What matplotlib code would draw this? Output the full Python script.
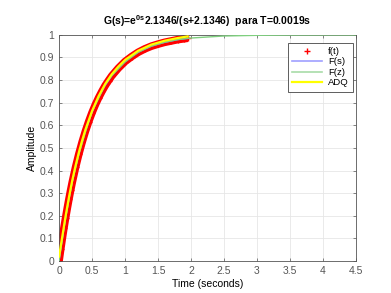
import matplotlib
matplotlib.use("Agg")
import matplotlib.pyplot as plt
from matplotlib.lines import Line2D

plt.rcParams['font.family'] = ['Liberation Sans', 'DejaVu Sans']
plt.rcParams['mathtext.fontset'] = 'custom'
plt.rcParams['mathtext.rm'] = 'Liberation Sans'
plt.rcParams['mathtext.bf'] = 'Liberation Sans:bold'

# Data
t_f = [0, 0.025, 0.05, 0.075, 0.1, 0.125, 0.15, 0.175, 0.2, 0.25, 0.3, 0.35, 0.4, 0.45, 0.5,
       0.55, 0.6, 0.65, 0.7, 0.75, 0.8, 0.9, 1.0, 1.1, 1.2, 1.3, 1.4, 1.5, 1.6, 1.7, 1.8,
       1.9, 1.95]
y_f = [0, 0.052, 0.101, 0.148, 0.192, 0.234, 0.274, 0.312, 0.348, 0.414, 0.473, 0.526, 0.574,
       0.617, 0.656, 0.691, 0.722, 0.750, 0.776, 0.798, 0.819, 0.853, 0.882, 0.904, 0.923,
       0.938, 0.950, 0.959, 0.967, 0.973, 0.979, 0.983, 0.985]
t_z = [0, 0.1, 0.2, 0.3, 0.4, 0.5, 0.6, 0.7, 0.8, 0.9, 1.0, 1.2, 1.4, 1.6, 1.8, 2.0,
       2.5, 3.0, 3.5, 4.0, 4.5]
y_z = [0, 0.19, 0.35, 0.47, 0.57, 0.66, 0.72, 0.78, 0.82, 0.85, 0.88, 0.923, 0.950, 0.967,
       0.979, 0.986, 0.995, 0.998, 0.9995, 1.0, 1.0]
t_adq = [0, 0.025, 0.05, 0.1, 0.15, 0.2, 0.25, 0.3, 0.35, 0.4, 0.5, 0.6, 0.7, 0.8, 0.9, 1.0,
         1.2, 1.4, 1.6, 1.8, 1.95]
y_adq = [0.02, 0.065, 0.11, 0.20, 0.282, 0.356, 0.421, 0.480, 0.533, 0.581, 0.663, 0.729,
         0.783, 0.826, 0.860, 0.889, 0.930, 0.957, 0.974, 0.986, 0.993]
x_ticks = [0, 0.5, 1, 1.5, 2, 2.5, 3, 3.5, 4, 4.5]
y_ticks = [0, 0.1, 0.2, 0.3, 0.4, 0.5, 0.6, 0.7, 0.8, 0.9, 1]

fig = plt.figure(figsize=(3.91, 2.93), dpi=100)
ax = fig.add_axes([0.151, 0.109, 0.759, 0.772])

red = '#ff0000'
ax.plot(t_f, y_f, color=red, lw=5.5, solid_capstyle='butt', solid_joinstyle='round', zorder=2)
ax.plot(t_f, y_f, '+', color=red, ms=4, zorder=2)
ax.plot(t_f, y_f, color='#7b7bff', lw=1, zorder=3)
ax.plot(t_z, y_z, color='#7fcf7f', lw=1, zorder=3)
ax.plot(t_adq, y_adq, color='#ffff00', lw=1.6, zorder=4)

ax.set_xlim(0, 4.5)
ax.set_ylim(0, 1)
ax.set_xticks(x_ticks)
ax.set_xticklabels([f'{v:g}' for v in x_ticks])
ax.set_yticks(y_ticks)
ax.set_yticklabels([f'{v:g}' for v in y_ticks])
ax.grid(True, color='#e6e6e6', lw=0.6)
ax.set_axisbelow(True)
ax.tick_params(direction='in', length=2.5, width=0.5, colors='#555555', labelsize=7.5,
               top=True, right=True, labeltop=False, labelright=False)
for s in ax.spines.values():
    s.set_color('#555555')
    s.set_linewidth(0.6)

ax.set_xlabel('Time (seconds)', fontsize=7.5, labelpad=2)
ax.set_ylabel('Amplitude', fontsize=7.5, labelpad=2)
ax.set_title(r'G(s)=e$^{\mathbf{0s}}$2.1346/(s+2.1346)  para T=0.0019s',
             fontsize=7.5, fontweight='bold', pad=7)

handles = [Line2D([], [], color=red, marker='+', ls='none', ms=5),
           Line2D([], [], color='#9f9fff', lw=1.2),
           Line2D([], [], color='#a8dca8', lw=1.2),
           Line2D([], [], color='#ffff00', lw=1.6)]
leg = ax.legend(handles, ['f(t)', 'F(s)', 'F(z)', 'ADQ'], loc='upper right',
                bbox_to_anchor=(0.99, 0.965), borderaxespad=0, fontsize=6.8,
                fancybox=False, framealpha=1, edgecolor='#444444', handlelength=3.2,
                borderpad=0.45, labelspacing=0.15, handletextpad=0.6)
leg.get_frame().set_linewidth(0.6)

fig.savefig('out.png', dpi=100)
